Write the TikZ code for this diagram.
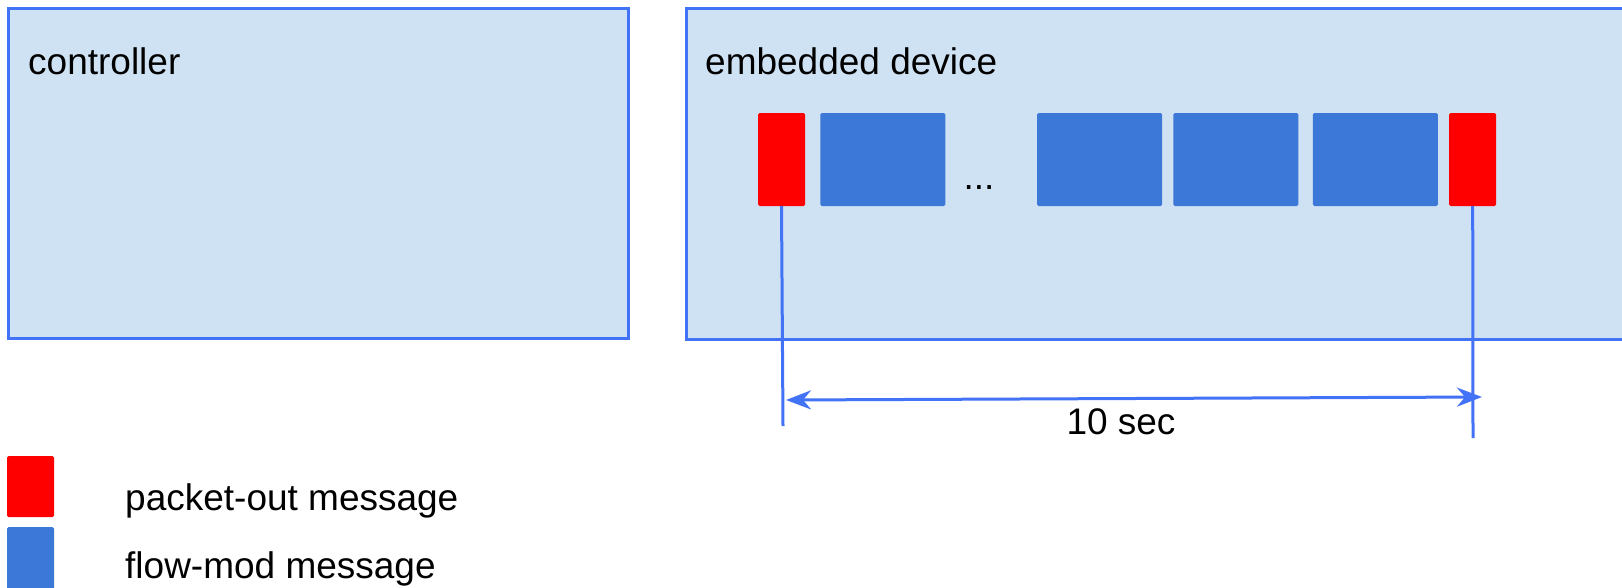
\documentclass[tikz,border=0pt]{standalone}
\usepackage{fontspec}
\setmainfont{Liberation Sans}
\usetikzlibrary{positioning,arrows.meta}
\definecolor{myfill}{RGB}{207,226,243}
\definecolor{myline}{RGB}{66,114,245}
\definecolor{myblue}{RGB}{60,120,216}
\definecolor{myred}{RGB}{255,0,0}
\newcommand*\txtsize{\fontsize{37}{44}\selectfont}
\tikzstyle{devbox}=[draw=myline,fill=myfill,line width=3pt,inner sep=0pt]
\tikzstyle{pktout}=[fill=myred,minimum width=47pt,minimum height=93pt,rounded corners=1.5pt,inner sep=0pt]
\tikzstyle{flowmod}=[fill=myblue,minimum width=125pt,minimum height=93pt,rounded corners=1.5pt,inner sep=0pt]
\tikzstyle{txt}=[anchor=base west,inner sep=0pt,font=\txtsize]
\tikzstyle{vline}=[draw=myline,line width=3pt]
\tikzstyle{arr}=[{Stealth[length=25pt,width=19pt,inset=8pt]}-{Stealth[length=25pt,width=19pt,inset=8pt]},draw=myline,line width=3pt]

\begin{document}
\begin{tikzpicture}[x=1pt,y=-1pt]
      \clip (0,0) rectangle (1622,587);
      % boxes
      \node (ctrl) [devbox, minimum width=620pt, minimum height=330pt] at (318,173) {};
      \node (dev) [devbox, minimum width=954pt, minimum height=331pt] at (1163,173.5) {};
      \node (ctrltxt) [txt] at (28,74) {controller};
      \node (devtxt) [txt] at (705,74) {embedded device};
      % messages
      \node (out1) [pktout] at (781.5,159.5) {};
      \node (mod1) [flowmod, right=15pt of out1] {};
      \node (dots) [anchor=base, inner sep=0pt, font=\txtsize] at (979,189) {...};
      \node (mod2) [flowmod] at (1099.5,159.5) {};
      \node (mod3) [flowmod, right=11pt of mod2] {};
      \node (mod4) [flowmod, right=14pt of mod3] {};
      \node (out2) [pktout, right=11pt of mod4] {};
      % interval
      \coordinate (lb) at (783,426);
      \coordinate (rb) at (1473,438);
      \coordinate (al) at (786,400);
      \coordinate (ar) at (1482,397);
      \draw[vline] (out1.south) -- (lb);
      \draw[vline] (out2.south) -- (rb);
      \draw[arr] (al) -- (ar);
      \node (period) [txt, anchor=base] at (1121,434) {10 sec};
      % legend
      \node (keyout) [pktout, minimum height=61pt] at (30.5,486.5) {};
      \node (keymod) [flowmod, minimum width=47pt, minimum height=66pt] at (30.5,560) {};
      \node (keyouttxt) [txt] at (125,510) {packet-out message};
      \node (keymodtxt) [txt] at (125,578) {flow-mod message};
    \end{tikzpicture}
\end{document}
